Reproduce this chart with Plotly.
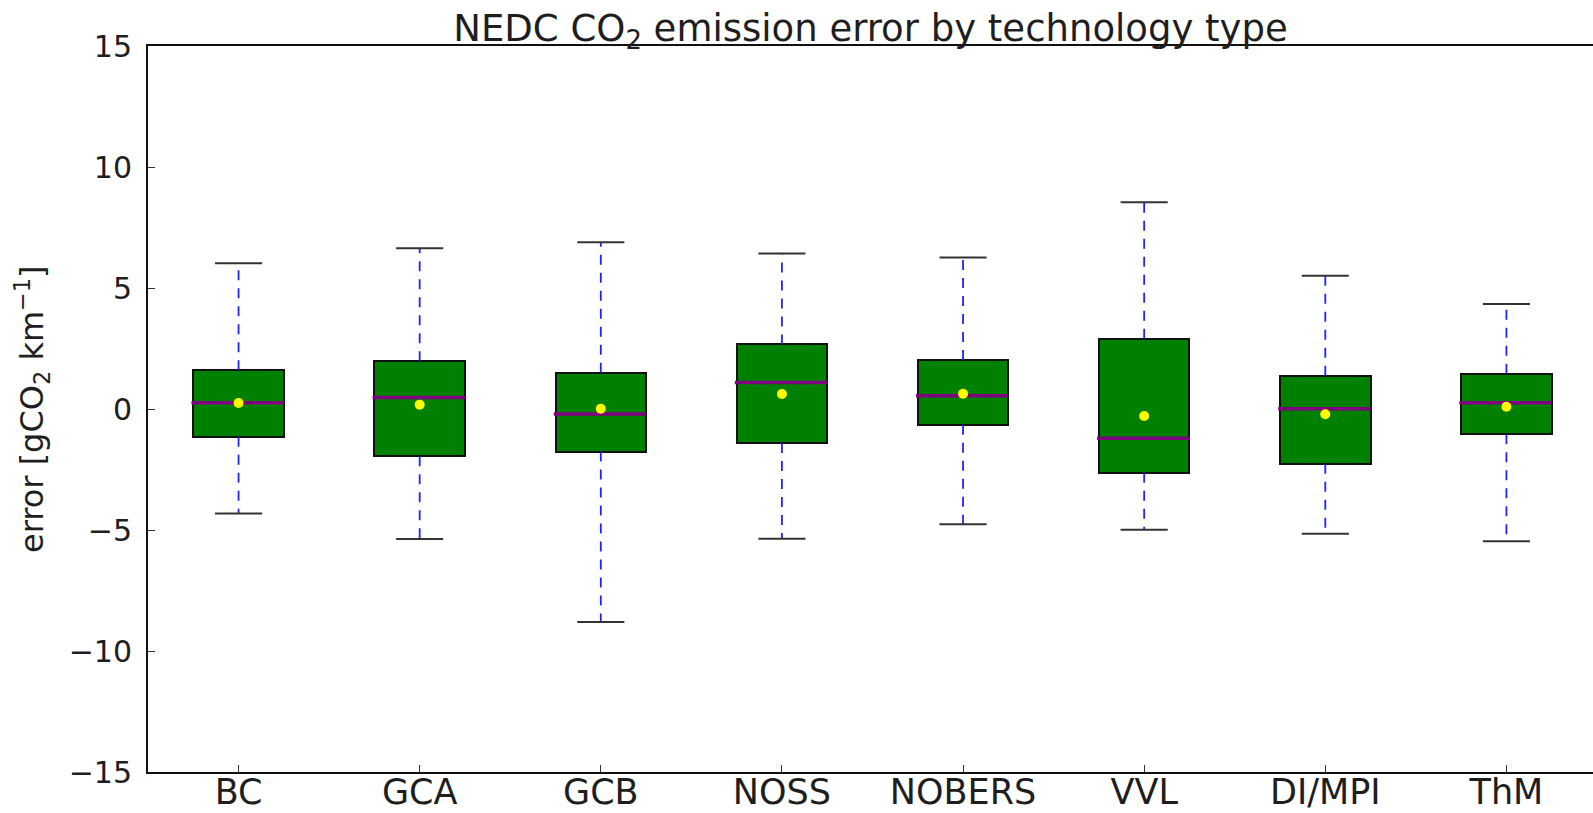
import plotly.graph_objects as go

categories = ["BC", "GCA", "GCB", "NOSS", "NOBERS", "VVL", "DI/MPI", "ThM"]
lower_whisker = [-4.32, -5.37, -8.80, -5.36, -4.76, -4.99, -5.15, -5.46]
q1 = [-1.15, -1.95, -1.76, -1.41, -0.65, -2.63, -2.26, -1.04]
median = [0.26, 0.48, -0.21, 1.10, 0.55, -1.21, 0.01, 0.26]
q3 = [1.60, 1.97, 1.50, 2.67, 2.02, 2.90, 1.37, 1.46]
upper_whisker = [6.02, 6.64, 6.89, 6.43, 6.26, 8.54, 5.51, 4.34]
mean = [0.25, 0.18, 0.01, 0.62, 0.63, -0.29, -0.22, 0.09]
y_ticks = [-15, -10, -5, 0, 5, 10, 15]

pos = list(range(1, len(categories) + 1))
BOX_W = 0.5
CAP_W = 0.26

fig = go.Figure()

# boxes
fig.add_trace(go.Bar(
    x=pos, base=q1, y=[b - a for a, b in zip(q1, q3)], width=BOX_W,
    marker=dict(color="#008000", line=dict(color="#111111", width=2)),
    showlegend=False, hoverinfo="skip",
))

# whiskers (dashed blue)
wx, wy = [], []
for p, lo, a, b, hi in zip(pos, lower_whisker, q1, q3, upper_whisker):
    wx += [p, p, None, p, p, None]
    wy += [b, hi, None, a, lo, None]
fig.add_trace(go.Scatter(x=wx, y=wy, mode="lines",
                         line=dict(color="#2222FF", width=1.8, dash="10px,8px"),
                         showlegend=False, hoverinfo="skip"))

# caps
cx, cy = [], []
for p, lo, hi in zip(pos, lower_whisker, upper_whisker):
    cx += [p - CAP_W / 2, p + CAP_W / 2, None, p - CAP_W / 2, p + CAP_W / 2, None]
    cy += [hi, hi, None, lo, lo, None]
fig.add_trace(go.Scatter(x=cx, y=cy, mode="lines",
                         line=dict(color="#333333", width=2),
                         showlegend=False, hoverinfo="skip"))

# medians
mx, my = [], []
for p, m in zip(pos, median):
    mx += [p - BOX_W / 2 - 0.01, p + BOX_W / 2, None]
    my += [m, m, None]
fig.add_trace(go.Scatter(x=mx, y=my, mode="lines",
                         line=dict(color="#800080", width=3.5),
                         showlegend=False, hoverinfo="skip"))

# means
fig.add_trace(go.Scatter(x=pos, y=mean, mode="markers",
                         marker=dict(color="#FFFF00", size=10,
                                     line=dict(color="#FFFF00", width=0)),
                         showlegend=False, hoverinfo="skip"))

font_family = "DejaVu Sans"
txt = "#1e1e1e"
L, R, T, B = 148, 0, 46, 41
W, H = 1593, 813
fig.update_layout(
    width=W, height=H,
    margin=dict(l=L, r=R, t=T, b=B, autoexpand=False),
    paper_bgcolor="white", plot_bgcolor="white",
    font=dict(family=font_family, color=txt),
    title=dict(text="NEDC CO<sub>2</sub> emission error by technology type",
               x=0.5, xref="paper", xanchor="center",
               y=1, yref="paper", yanchor="bottom", pad=dict(b=5),
               font=dict(family=font_family, size=37, color=txt)),
    bargap=0,
)
fig.add_annotation(
    text="error [gCO<sub>2</sub> km<sup>−1</sup>]",
    xref="paper", yref="paper", x=(32 - L) / (W - L - R), y=0.5,
    xanchor="center", yanchor="middle", textangle=-90, showarrow=False,
    font=dict(family=font_family, size=32, color=txt),
)
fig.update_xaxes(
    range=[0.5, 8.478], tickmode="array", tickvals=pos, ticktext=categories,
    ticks="inside", ticklen=7, tickcolor="#333333", tickwidth=1,
    showline=True, linecolor="#111111", linewidth=2, mirror=True,
    showgrid=False, zeroline=False, automargin=False,
    tickfont=dict(family=font_family, size=35, color=txt),
    ticklabelstandoff=-12,
)
fig.update_yaxes(
    range=[-15, 15], tickmode="array", tickvals=y_ticks,
    ticks="inside", ticklen=7, tickcolor="#333333", tickwidth=1,
    showline=True, linecolor="#111111", linewidth=2, mirror=False,
    showgrid=False, zeroline=False, automargin=False,
    tickfont=dict(family=font_family, size=30, color=txt),
    ticklabelstandoff=8,
)

fig.write_html("out.html")
